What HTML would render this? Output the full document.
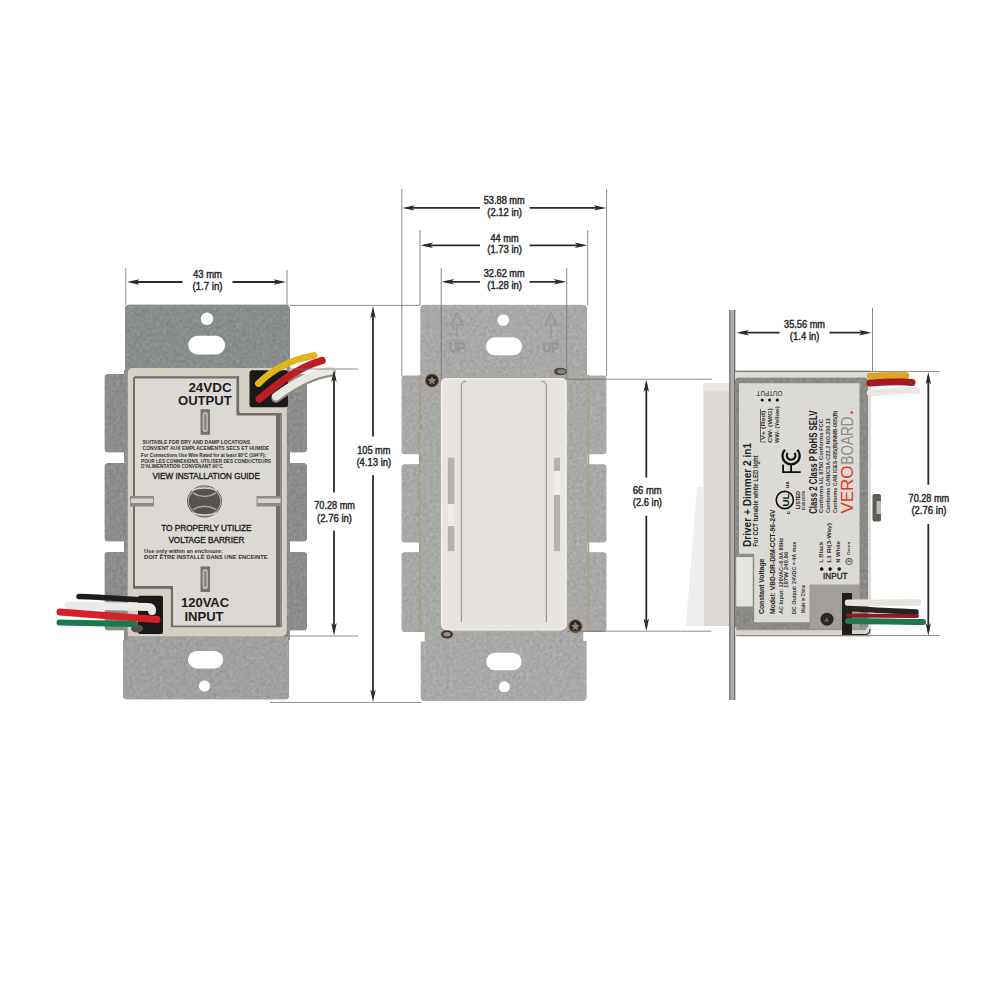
<!DOCTYPE html>
<html><head><meta charset="utf-8"><style>
html,body{margin:0;padding:0;background:#fff;width:1000px;height:1000px;overflow:hidden}
svg{display:block}
text{font-family:"Liberation Sans",sans-serif}
</style></head><body>
<svg width="1000" height="1000" viewBox="0 0 1000 1000">
<defs>
<filter id="tex" x="0" y="0" width="1" height="1" color-interpolation-filters="sRGB">
 <feTurbulence type="fractalNoise" baseFrequency="0.3" numOctaves="3" seed="7" result="n"/>
 <feColorMatrix in="n" type="matrix" values="0.33 0.33 0.33 0 0  0.33 0.33 0.33 0 0  0.33 0.33 0.33 0 0  0 0 0 0 1" result="g"/>
 <feComposite in="SourceGraphic" in2="g" operator="arithmetic" k1="0" k2="1" k3="0.24" k4="-0.12" result="c"/>
 <feComposite in="c" in2="SourceAlpha" operator="in"/>
</filter>
</defs>
<rect width="1000" height="1000" fill="#fff"/>

<g filter="url(#tex)">
<path d="M125,309 Q125,304.5 129.5,304.5 L285.5,304.5 Q290,304.5 290,309 L290,380 L125,380 Z" fill="#898e8d"/>
<rect x="124" y="370" width="166" height="270" fill="#8b8e8c"/>
<path d="M123,640 L128,640 L128,636 L288,636 L288,640 L289.2,640 L289.2,695.5 Q289.2,699.5 285.2,699.5 L127,699.5 Q123,699.5 123,695.5 Z" fill="#9fa1a0"/>
<rect x="104.5" y="374" width="24" height="78.5" rx="3.5" fill="#8b8e8c"/>
<rect x="284" y="374" width="23" height="78.5" rx="3.5" fill="#8b8e8c"/>
<rect x="104.5" y="463" width="24" height="78.5" rx="3.5" fill="#8b8e8c"/>
<rect x="284" y="463" width="23" height="78.5" rx="3.5" fill="#8b8e8c"/>
<rect x="104.5" y="552" width="24" height="78.5" rx="3.5" fill="#8b8e8c"/>
<rect x="284" y="552" width="23" height="78.5" rx="3.5" fill="#8b8e8c"/>
</g>
<circle cx="207" cy="318.8" r="6.2" fill="#fff"/>
<rect x="188.3" y="335.8" width="36.7" height="18.7" rx="9.3" fill="#fff"/>
<rect x="188" y="651" width="35.2" height="17.4" rx="8.7" fill="#fff"/>
<circle cx="204.5" cy="686" r="5.6" fill="#fff"/>
<rect x="127.8" y="368" width="159" height="268.2" rx="5" fill="#d5cfc5"/>
<rect x="133" y="376.2" width="149" height="251" rx="2.5" fill="#6f6c69"/>
<rect x="280" y="377" width="2" height="249" fill="#8d8a86"/>
<path d="M135,378.5 L236.5,378.5 L236.5,415.5 L276,415.5 L276,625.4 L173,625.4 L173,586 L135,586 Z" fill="#dcd9d5"/>
<path d="M239,368 L287,368 L287,413 L239,413 Z" fill="#d5cfc5"/>
<path d="M238,376 L238,411 Q238,414 241,414 L281,414" stroke="#6f6c69" stroke-width="2.2" fill="none"/>
<path d="M127.8,588.5 L171,588.5 L171,636 L127.8,636 Z" fill="#d5cfc5"/>
<path d="M133,587.3 L168,587.3 Q172,587.3 172,591 L172,627" stroke="#6f6c69" stroke-width="2.2" fill="none"/>
<rect x="249.5" y="370.2" width="38.5" height="37" rx="2.5" fill="#1a1818"/>
<rect x="138" y="595.8" width="25" height="38.2" rx="2" fill="#1a1818"/>
<ellipse cx="137" cy="628.5" rx="6" ry="4" fill="#55524e"/>
<path d="M276,398 C292,386 310,375 331,372" stroke="#8e8a86" stroke-width="9.5" fill="none" stroke-linecap="round"/>
<path d="M276,396.5 C292,384.5 310,373.5 331,370.5" stroke="#ebe7e1" stroke-width="8" fill="none" stroke-linecap="round"/>
<path d="M259.5,399 C276,385 296,368 322,360.5" stroke="#bf1d26" stroke-width="7.5" fill="none" stroke-linecap="round"/>
<path d="M258.5,383.5 C270,372 288,360 314,355.5" stroke="#e3b31c" stroke-width="6.8" fill="none" stroke-linecap="round"/>
<path d="M79,596.5 C100,597 125,599 142,600" stroke="#1e1c1c" stroke-width="5.5" fill="none" stroke-linecap="round"/>
<path d="M69,605.5 L148,607 Q152,607 152,611" stroke="#eceae6" stroke-width="8" fill="none" stroke-linecap="round"/>
<path d="M60,612 L157,619.5" stroke="#d91f2a" stroke-width="7" fill="none" stroke-linecap="round"/>
<path d="M59.5,622.5 L135,624" stroke="#1a7a4c" stroke-width="6" fill="none" stroke-linecap="round"/>
<text x="188.4" y="391.6" font-size="13.0" font-weight="bold" textLength="43.2" lengthAdjust="spacingAndGlyphs" fill="#1e1e1e">24VDC</text>
<text x="178.0" y="405.2" font-size="13.6" font-weight="bold" textLength="53.6" lengthAdjust="spacingAndGlyphs" fill="#1e1e1e">OUTPUT</text>
<rect x="200.5" y="409.2" width="9.5" height="25.6" fill="#77746f"/><rect x="202.6" y="412" width="5.3" height="20" rx="2.6" fill="#bdb9b4"/><rect x="204" y="414" width="2.5" height="16" rx="1.2" fill="#8e8a85"/>
<text x="142.5" y="444.0" font-size="5.0" font-weight="bold" textLength="107.5" lengthAdjust="spacingAndGlyphs" fill="#333">SUITABLE FOR DRY AND DAMP LOCATIONS</text>
<text x="142.5" y="450.1" font-size="5.0" font-weight="bold" textLength="126.7" lengthAdjust="spacingAndGlyphs" fill="#333">CONVIENT AUX EMPLACEMENTS SECS ET HUMIDE</text>
<text x="141.0" y="457.2" font-size="4.9" font-weight="bold" textLength="125.0" lengthAdjust="spacingAndGlyphs" fill="#2a2a2a">For Connections Use Wire Rated for at least 90°C (194°F);</text>
<text x="141.0" y="462.5" font-size="4.9" font-weight="bold" textLength="130.0" lengthAdjust="spacingAndGlyphs" fill="#333">POUR LES CONNEXIONS, UTILISER DES CONDUCTEURS</text>
<text x="141.0" y="467.6" font-size="4.9" font-weight="bold" textLength="81.8" lengthAdjust="spacingAndGlyphs" fill="#333">D'ALIMENTATION CONVENANT 90°C</text>
<text x="152.4" y="479.3" font-size="8.7"  textLength="107.5" lengthAdjust="spacingAndGlyphs" fill="#222" stroke="#222" stroke-width="0.35">VIEW INSTALLATION GUIDE</text>
<ellipse cx="204.5" cy="501.3" rx="18" ry="16.5" fill="#e9e7e2"/>
<ellipse cx="204.5" cy="501.3" rx="17" ry="15.5" fill="none" stroke="#6a6560" stroke-width="1.2"/>
<ellipse cx="204.5" cy="501.3" rx="15.8" ry="14.3" fill="#57534f"/>
<path d="M192,490 Q204.5,486 217,490" stroke="#d8d4cf" stroke-width="1.4" fill="none"/>
<path d="M193,493 Q204.5,500 216,493" stroke="#aaa59f" stroke-width="1.5" fill="none"/>
<path d="M193,509.5 Q204.5,503 216,509.5" stroke="#aaa59f" stroke-width="1.5" fill="none"/>
<path d="M192,513 Q204.5,517 217,513" stroke="#d8d4cf" stroke-width="1.4" fill="none"/>
<rect x="130" y="496" width="24" height="10.5" fill="#8f8b86"/><rect x="131" y="498.5" width="22" height="4.5" fill="#d5d2cd"/>
<rect x="256.5" y="496" width="25" height="10.5" fill="#8f8b86"/><rect x="257.5" y="498.5" width="23" height="4.5" fill="#d5d2cd"/>
<text x="161.2" y="531.4" font-size="8.6"  textLength="90.4" lengthAdjust="spacingAndGlyphs" fill="#222" stroke="#222" stroke-width="0.35">TO PROPERLY UTILIZE</text>
<text x="168.4" y="542.6" font-size="8.6"  textLength="76.0" lengthAdjust="spacingAndGlyphs" fill="#222" stroke="#222" stroke-width="0.35">VOLTAGE BARRIER</text>
<text x="144.0" y="553.0" font-size="5.0" font-weight="bold" textLength="78.8" lengthAdjust="spacingAndGlyphs" fill="#333">Use only within an enclosure;</text>
<text x="144.0" y="558.6" font-size="5.0" font-weight="bold" textLength="123.6" lengthAdjust="spacingAndGlyphs" fill="#333">DOIT ÊTRE INSTALLÉ DANS UNE ENCEINTE</text>
<rect x="200.5" y="566.4" width="9.5" height="25.6" fill="#77746f"/><rect x="202.6" y="569" width="5.3" height="20" rx="2.6" fill="#bdb9b4"/><rect x="204" y="571" width="2.5" height="16" rx="1.2" fill="#8e8a85"/>
<text x="180.9" y="607.3" font-size="13.0" font-weight="bold" textLength="48.3" lengthAdjust="spacingAndGlyphs" fill="#1e1e1e">120VAC</text>
<text x="184.4" y="621.0" font-size="13.6" font-weight="bold" textLength="39.2" lengthAdjust="spacingAndGlyphs" fill="#1e1e1e">INPUT</text>
<g filter="url(#tex)">
<path d="M424,304.8 L583,304.8 Q587,304.8 587,308.8 L587,631 L583.4,631 L583.4,641 L586.6,641 L586.6,697 Q586.6,701 582.6,701 L424.6,701 Q420.6,701 420.6,697 L420.6,641.6 L424.6,641.6 L424.6,632 L420.3,632 L420.3,308.8 Q420.3,304.8 424,304.8 Z" fill="#a9a9a7"/>
<rect x="401.5" y="375.5" width="24" height="78.69999999999999" rx="3" fill="#a9a9a7"/>
<rect x="582" y="375.5" width="24.5" height="78.69999999999999" rx="3" fill="#a9a9a7"/>
<rect x="401.5" y="464.2" width="24" height="78.19999999999999" rx="3" fill="#a9a9a7"/>
<rect x="582" y="464.2" width="24.5" height="78.19999999999999" rx="3" fill="#a9a9a7"/>
<rect x="401.5" y="552.3" width="24" height="79.70000000000005" rx="3" fill="#a9a9a7"/>
<rect x="582" y="552.3" width="24.5" height="79.70000000000005" rx="3" fill="#a9a9a7"/>
<line x1="419.8" y1="375" x2="419.8" y2="632" stroke="#ad9f8c" stroke-width="2"/>
</g>
<line x1="588.3" y1="375" x2="588.3" y2="631" stroke="#ad9f8c" stroke-width="2"/>
<circle cx="503.2" cy="320.2" r="5.8" fill="#fff"/>
<rect x="486" y="337.3" width="36" height="18" rx="9" fill="#fff"/>
<rect x="486.3" y="652.7" width="35.2" height="17.6" rx="8.8" fill="#fff"/>
<circle cx="504.3" cy="686.8" r="5.5" fill="#fff"/>
<path d="M457,313 L451,325 L463,325 Z" fill="none" stroke="#929290" stroke-width="1.1"/>
<line x1="457" y1="325" x2="457" y2="337" stroke="#929290" stroke-width="1.1"/>
<text x="457" y="352" font-size="12" text-anchor="middle" fill="none" stroke="#929290" stroke-width="0.8">UP</text>
<path d="M551,313 L545,325 L557,325 Z" fill="none" stroke="#929290" stroke-width="1.1"/>
<line x1="551" y1="325" x2="551" y2="337" stroke="#929290" stroke-width="1.1"/>
<text x="551" y="352" font-size="12" text-anchor="middle" fill="none" stroke="#929290" stroke-width="0.8">UP</text>
<line x1="447" y1="377.6" x2="561" y2="377.6" stroke="#8a827d" stroke-width="1"/>
<rect x="441.6" y="378.5" width="124.5" height="251.2" rx="5.5" fill="#e9e4e2" stroke="#f3f1ef" stroke-width="1.4"/>
<rect x="461.4" y="380" width="85" height="243" rx="4" fill="#e5dfdd"/>
<path d="M461.3,622 L461.3,386 Q461.5,381.5 466,381.3" stroke="#857c79" stroke-width="0.9" fill="none"/><path d="M546.4,622 L546.4,386 Q546.2,381.5 541.7,381.3" stroke="#857c79" stroke-width="0.9" fill="none"/>
<rect x="447.8" y="457.7" width="6.6" height="93.5" fill="#b9b1af"/>
<rect x="447.5" y="504" width="7.2" height="22" fill="#f0ecea"/>
<rect x="553.9" y="457.7" width="6.1" height="93.5" fill="#b9b1af"/>
<rect x="553.6" y="471" width="6.7" height="24" fill="#f0ecea"/>
<circle cx="432" cy="380.5" r="7.2" fill="#8a8276"/><circle cx="432" cy="380.5" r="6.2" fill="#2e2822"/><path d="M432,376 L433.5,379 L436.5,379.5 L434,381.5 L435,384.5 L432,383 L429,384.5 L430,381.5 L427.5,379.5 L430.5,379 Z" fill="#8f8270"/>
<circle cx="575.4" cy="626.3" r="7.2" fill="#8a8276"/><circle cx="575.4" cy="626.3" r="6.2" fill="#2e2822"/><path d="M575.4,621.8 L576.9,624.8 L579.9,625.3 L577.4,627.3 L578.4,630.3 L575.4,628.8 L572.4,630.3 L573.4,627.3 L570.9,625.3 L573.9,624.8 Z" fill="#8f8270"/>
<ellipse cx="447" cy="634.4" rx="6" ry="4.2" fill="#3b3630"/><ellipse cx="447" cy="634.2" rx="3.5" ry="2.2" fill="#9c9080"/>
<ellipse cx="560.4" cy="371.5" rx="6.5" ry="3.8" fill="#4f4a44"/><ellipse cx="561.5" cy="371.5" rx="4" ry="2.2" fill="#8f8577"/>
<rect x="703.5" y="383.5" width="27" height="242.5" fill="#dcd8d6"/>
<rect x="703.5" y="383.5" width="27" height="8" fill="#e9e6e3"/>
<path d="M697,487 L704,487 L704,626 L686,626 Z" fill="#efeeed"/>
<rect x="729.3" y="310" width="6" height="390" fill="#b0aeab"/>
<rect x="729.3" y="310" width="1.2" height="390" fill="#6e6c6a"/>
<rect x="734" y="310" width="1.2" height="390" fill="#6e6c6a"/>
<rect x="735" y="370.8" width="136" height="265.7" rx="3" fill="#dedbd7"/>
<rect x="735" y="370.8" width="136" height="1" fill="#7c7a77"/>
<rect x="735" y="377.4" width="133" height="251.6" rx="4" fill="#8c8a86" filter="url(#tex)"/>
<path d="M739,383.3 L859.5,383.3 L859.5,584.7 L809.7,584.7 L809.7,622.2 L754.2,622.2 L754.2,553.7 L739,553.7 Z" fill="#dcdad6"/>
<rect x="736.2" y="557" width="16.5" height="49.5" fill="#e6e4e0"/>
<rect x="736" y="629" width="130" height="7.5" rx="3.5" fill="#d6d3ce"/>
<rect x="736" y="629" width="130" height="1.2" fill="#9a9792"/>
<rect x="809.7" y="584.7" width="50" height="44" fill="#a29f9a"/>
<circle cx="827" cy="619.2" r="6.5" fill="#2a2826"/><text x="824.5" y="622" font-size="6" fill="#aaa">A</text>
<rect x="842" y="593" width="10" height="42" fill="#1f1d1c"/>
<path d="M843,634.5 L866,634.5 Q870,634 870,629" stroke="#2a2826" stroke-width="1.2" fill="none"/>
<path d="M870,376 C885,375 895,375 906,375.5" stroke="#dca524" stroke-width="6.5" stroke-linecap="round" fill="none"/>
<path d="M870,383 C885,382 900,381 912,382.5" stroke="#a8191e" stroke-width="7" stroke-linecap="round" fill="none"/>
<path d="M870,393 C890,391 905,390 917,390.5" stroke="#e9e5e0" stroke-width="6.5" stroke-linecap="round" fill="none"/>
<path d="M848,602.7 L918,602.5" stroke="#e6e3dc" stroke-width="6.5" stroke-linecap="round" fill="none"/>
<path d="M848,608.5 C870,610 895,611 916,612" stroke="#262423" stroke-width="5.5" stroke-linecap="round" fill="none"/>
<path d="M848,615.5 L917,616" stroke="#8c1a1e" stroke-width="4" stroke-linecap="round" fill="none"/>
<path d="M848,621 C875,621 900,622 923,622" stroke="#1d7a50" stroke-width="6" stroke-linecap="round" fill="none"/>
<rect x="872.5" y="494" width="8.5" height="27.5" rx="2" fill="#5f5d59"/>
<rect x="876.5" y="501" width="4.5" height="13" fill="#bdbbb8"/>
<text transform="translate(747.0,547.0) rotate(-90)" x="0" y="3.61" font-size="10.5" font-weight="bold" textLength="104.0" lengthAdjust="spacingAndGlyphs" fill="#1e1e1e">Driver + Dimmer 2 in1</text>
<text transform="translate(756.0,546.8) rotate(-90)" x="0" y="2.27" font-size="6.6" font-weight="bold" textLength="91.4" lengthAdjust="spacingAndGlyphs" fill="#2a2a2a">For CCT tunable white LED light</text>
<text transform="translate(761.5,614.0) rotate(-90)" x="0" y="2.48" font-size="7.2" font-weight="bold" textLength="55.4" lengthAdjust="spacingAndGlyphs" fill="#1e1e1e">Constant Voltage</text>
<text transform="translate(772.7,614.0) rotate(-90)" x="0" y="2.48" font-size="7.2" font-weight="bold" textLength="104.4" lengthAdjust="spacingAndGlyphs" fill="#1e1e1e">Model: VBD-DR-DIM-CCT-96-24V</text>
<text transform="translate(781.0,614.0) rotate(-90)" x="0" y="1.72" font-size="5.0" font-weight="bold" textLength="76.4" lengthAdjust="spacingAndGlyphs" fill="#333">AC Input: 120VAC~0.9A 60Hz</text>
<text transform="translate(786.5,588.0) rotate(-90)" x="0" y="1.72" font-size="5.0" font-weight="bold" textLength="36.4" lengthAdjust="spacingAndGlyphs" fill="#333">107W  240.96</text>
<text transform="translate(794.0,614.0) rotate(-90)" x="0" y="1.89" font-size="5.5" font-weight="bold" textLength="72.2" lengthAdjust="spacingAndGlyphs" fill="#333">DC Output: 24VDC = 4A max</text>
<text transform="translate(803.0,613.0) rotate(-90)" x="0" y="1.55" font-size="4.5" font-weight="bold" textLength="28.0" lengthAdjust="spacingAndGlyphs" fill="#333">Made in China</text>
<text transform="translate(814.0,513.8) rotate(-90)" x="0" y="3.44" font-size="10.0" font-weight="bold" textLength="103.2" lengthAdjust="spacingAndGlyphs" fill="#1e1e1e">Class 2  Class P  RoHS  SELV</text>
<text transform="translate(821.7,513.0) rotate(-90)" x="0" y="1.72" font-size="5.0" font-weight="bold" textLength="94.0" lengthAdjust="spacingAndGlyphs" fill="#333">Conforms UL 8750          Conforms FCC</text>
<text transform="translate(828.0,513.0) rotate(-90)" x="0" y="1.72" font-size="5.0" font-weight="bold" textLength="94.7" lengthAdjust="spacingAndGlyphs" fill="#333">Conforms CAN/CSA-C22.2 NO.250.13</text>
<text transform="translate(835.0,513.0) rotate(-90)" x="0" y="1.72" font-size="5.0" font-weight="bold" textLength="102.4" lengthAdjust="spacingAndGlyphs" fill="#333">Conforms CAN ICES-005(B)/NMB-005(B)</text>
<text transform="translate(853.2,513.5) rotate(-90)" x="0" y="0" font-size="16.8" textLength="48" lengthAdjust="spacingAndGlyphs" fill="#e2391d">VERO</text>
<text transform="translate(853.2,464.5) rotate(-90)" x="0" y="0" font-size="16.8" textLength="48" lengthAdjust="spacingAndGlyphs" fill="#8a8a8a">BOARD</text>
<circle cx="851.8" cy="412.5" r="1.3" fill="#e2391d"/>
<text transform="translate(782.5,391) rotate(180)" x="0" y="0" font-size="7" fill="#222" textLength="26" lengthAdjust="spacingAndGlyphs">OUTPUT</text>
<circle cx="762.2" cy="400" r="1.6" fill="#111"/>
<circle cx="769.6" cy="400" r="1.6" fill="#111"/>
<circle cx="777.3" cy="400" r="1.6" fill="#111"/>
<text transform="translate(763.6,440.0) rotate(-90)" x="0" y="1.72" font-size="5.0" font-weight="bold" textLength="29.4" lengthAdjust="spacingAndGlyphs" fill="#333">V+    (Red)</text>
<text transform="translate(770.6,443.0) rotate(-90)" x="0" y="1.72" font-size="5.0" font-weight="bold" textLength="35.0" lengthAdjust="spacingAndGlyphs" fill="#333">CW-  (W/G)</text>
<text transform="translate(777.6,443.0) rotate(-90)" x="0" y="1.72" font-size="5.0" font-weight="bold" textLength="36.6" lengthAdjust="spacingAndGlyphs" fill="#333">WW- (Yellow)</text>
<path d="M760.5,409 L760.5,442 L766,442" stroke="#333" stroke-width="0.7" fill="none"/>
<path d="M782.2,472.2 L800.7,472.2 M783.1,472.2 L783.1,464.5 M791.1,472.2 L791.1,463.8" stroke="#111" stroke-width="1.8" fill="none"/>
<path d="M784.9,449.8 A8.6,8.6 0 1 0 797.3,449.8" stroke="#111" stroke-width="2.3" fill="none"/>
<path d="M787.7,452.8 A4.3,4.3 0 1 0 794.5,452.8" stroke="#111" stroke-width="2.2" fill="none"/>
<circle cx="784.8" cy="500" r="8.6" fill="none" stroke="#111" stroke-width="1.6"/>
<text transform="translate(788.5,506.5) rotate(-90)" x="0" y="0" font-size="9.5" font-weight="bold" fill="#111" textLength="13" lengthAdjust="spacingAndGlyphs">UL</text>
<text transform="translate(798.0,509.0) rotate(-90)" x="0" y="1.89" font-size="5.5" font-weight="bold" textLength="17.8" lengthAdjust="spacingAndGlyphs" fill="#111">LISTED</text>
<text transform="translate(804.0,510.0) rotate(-90)" x="0" y="1.44" font-size="4.2" font-weight="bold" textLength="19.0" lengthAdjust="spacingAndGlyphs" fill="#333">E351978</text>
<text transform="translate(787.8,488.0) rotate(-90)" x="0" y="1.55" font-size="4.5" font-weight="bold" textLength="6.5" lengthAdjust="spacingAndGlyphs" fill="#111">us</text>
<text transform="translate(788.0,514.5) rotate(-90)" x="0" y="1.55" font-size="4.5" font-weight="bold" textLength="3.5" lengthAdjust="spacingAndGlyphs" fill="#111">c</text>
<text transform="translate(821.7,562.8) rotate(-90)" x="0" y="1.72" font-size="5.0" font-weight="bold" textLength="21.0" lengthAdjust="spacingAndGlyphs" fill="#333">L    Black</text>
<text transform="translate(829.4,562.8) rotate(-90)" x="0" y="1.72" font-size="5.0" font-weight="bold" textLength="39.8" lengthAdjust="spacingAndGlyphs" fill="#333">L1   R/(3-Way)</text>
<text transform="translate(838.5,562.8) rotate(-90)" x="0" y="1.72" font-size="5.0" font-weight="bold" textLength="21.8" lengthAdjust="spacingAndGlyphs" fill="#333">N    White</text>
<circle cx="849" cy="561.4" r="3.2" fill="none" stroke="#333" stroke-width="0.8"/><path d="M847,561.4 L851,561.4 M849,559 L849,561.4" stroke="#333" stroke-width="0.7"/>
<text transform="translate(849.0,555.0) rotate(-90)" x="0" y="1.44" font-size="4.2" font-weight="bold" textLength="13.2" lengthAdjust="spacingAndGlyphs" fill="#333">Green</text>
<circle cx="821.7" cy="569.1" r="1.8" fill="#111"/>
<circle cx="830.1" cy="569.1" r="1.8" fill="#111"/>
<circle cx="839.2" cy="569.1" r="1.8" fill="#111"/>
<text x="823.1" y="579.2" font-size="8.3"  textLength="24.5" lengthAdjust="spacingAndGlyphs" fill="#222" stroke="#222" stroke-width="0.3">INPUT</text>
<line x1="125.8" y1="268" x2="125.8" y2="305" stroke="#6e6e6e" stroke-width="0.8"/>
<line x1="287" y1="270" x2="287" y2="305" stroke="#6e6e6e" stroke-width="0.8"/>
<line x1="290" y1="305.4" x2="420" y2="305.4" stroke="#6e6e6e" stroke-width="0.8"/>
<line x1="290" y1="369" x2="358" y2="369" stroke="#6e6e6e" stroke-width="0.8"/>
<line x1="285" y1="636" x2="358" y2="636" stroke="#6e6e6e" stroke-width="0.8"/>
<line x1="270" y1="702.4" x2="421" y2="702.4" stroke="#6e6e6e" stroke-width="0.8"/>
<line x1="401.8" y1="189" x2="401.8" y2="376" stroke="#6e6e6e" stroke-width="0.8"/>
<line x1="420" y1="230" x2="420" y2="305" stroke="#6e6e6e" stroke-width="0.8"/>
<line x1="441.2" y1="268" x2="441.2" y2="379" stroke="#6e6e6e" stroke-width="0.8"/>
<line x1="566.7" y1="268" x2="566.7" y2="379" stroke="#6e6e6e" stroke-width="0.8"/>
<line x1="587.7" y1="230" x2="587.7" y2="305" stroke="#6e6e6e" stroke-width="0.8"/>
<line x1="606.6" y1="189" x2="606.6" y2="376" stroke="#6e6e6e" stroke-width="0.8"/>
<line x1="566.5" y1="379.2" x2="712" y2="379.2" stroke="#6e6e6e" stroke-width="0.8"/>
<line x1="567" y1="631.2" x2="711.4" y2="631.2" stroke="#6e6e6e" stroke-width="0.8"/>
<line x1="872.5" y1="308" x2="872.5" y2="372" stroke="#6e6e6e" stroke-width="0.8"/>
<line x1="736" y1="371.4" x2="940" y2="371.4" stroke="#6e6e6e" stroke-width="0.8"/>
<line x1="736" y1="635.6" x2="940" y2="635.6" stroke="#6e6e6e" stroke-width="0.8"/>
<line x1="131" y1="282" x2="182.5" y2="282" stroke="#2b2b2b" stroke-width="1.8"/>
<line x1="232.5" y1="282" x2="282" y2="282" stroke="#2b2b2b" stroke-width="1.8"/>
<polygon points="127.0,282.0 139.5,279.3 136.5,282.0 139.5,284.7" fill="#2b2b2b"/>
<polygon points="286.0,282.0 273.5,279.3 276.5,282.0 273.5,284.7" fill="#2b2b2b"/>
<line x1="406.3" y1="207.9" x2="480" y2="207.9" stroke="#2b2b2b" stroke-width="1.8"/>
<line x1="529.6" y1="207.9" x2="602.3" y2="207.9" stroke="#2b2b2b" stroke-width="1.8"/>
<polygon points="402.3,207.9 414.8,205.2 411.8,207.9 414.8,210.6" fill="#2b2b2b"/>
<polygon points="606.3,207.9 593.8,205.2 596.8,207.9 593.8,210.6" fill="#2b2b2b"/>
<line x1="424.5" y1="245.3" x2="480" y2="245.3" stroke="#2b2b2b" stroke-width="1.8"/>
<line x1="529.6" y1="245.3" x2="583.3" y2="245.3" stroke="#2b2b2b" stroke-width="1.8"/>
<polygon points="420.5,245.3 433.0,242.6 430.0,245.3 433.0,248.0" fill="#2b2b2b"/>
<polygon points="587.3,245.3 574.8,242.6 577.8,245.3 574.8,248.0" fill="#2b2b2b"/>
<line x1="445.6" y1="281.8" x2="480" y2="281.8" stroke="#2b2b2b" stroke-width="1.8"/>
<line x1="529.6" y1="281.8" x2="562.3" y2="281.8" stroke="#2b2b2b" stroke-width="1.8"/>
<polygon points="441.6,281.8 454.1,279.1 451.1,281.8 454.1,284.5" fill="#2b2b2b"/>
<polygon points="566.3,281.8 553.8,279.1 556.8,281.8 553.8,284.5" fill="#2b2b2b"/>
<line x1="740.5" y1="332.7" x2="779.6" y2="332.7" stroke="#2b2b2b" stroke-width="1.8"/>
<line x1="829.4" y1="332.7" x2="867.5" y2="332.7" stroke="#2b2b2b" stroke-width="1.8"/>
<polygon points="736.5,332.7 749.0,330.0 746.0,332.7 749.0,335.4" fill="#2b2b2b"/>
<polygon points="871.5,332.7 859.0,330.0 862.0,332.7 859.0,335.4" fill="#2b2b2b"/>
<line x1="373" y1="310" x2="373" y2="436.4" stroke="#2b2b2b" stroke-width="1.8"/>
<line x1="373" y1="475.2" x2="373" y2="698" stroke="#2b2b2b" stroke-width="1.8"/>
<polygon points="373.0,306.0 370.3,318.5 373.0,315.5 375.7,318.5" fill="#2b2b2b"/>
<polygon points="373.0,702.0 370.3,689.5 373.0,692.5 375.7,689.5" fill="#2b2b2b"/>
<line x1="334" y1="373.5" x2="334" y2="492.5" stroke="#2b2b2b" stroke-width="1.8"/>
<line x1="334" y1="530.7" x2="334" y2="631.5" stroke="#2b2b2b" stroke-width="1.8"/>
<polygon points="334.0,369.5 331.3,382.0 334.0,379.0 336.7,382.0" fill="#2b2b2b"/>
<polygon points="334.0,635.5 331.3,623.0 334.0,626.0 336.7,623.0" fill="#2b2b2b"/>
<line x1="646.3" y1="383.5" x2="646.3" y2="477.6" stroke="#2b2b2b" stroke-width="1.8"/>
<line x1="646.3" y1="515.7" x2="646.3" y2="627" stroke="#2b2b2b" stroke-width="1.8"/>
<polygon points="646.3,379.5 643.6,392.0 646.3,389.0 649.0,392.0" fill="#2b2b2b"/>
<polygon points="646.3,631.0 643.6,618.5 646.3,621.5 649.0,618.5" fill="#2b2b2b"/>
<line x1="928.3" y1="376" x2="928.3" y2="484.7" stroke="#2b2b2b" stroke-width="1.8"/>
<line x1="928.3" y1="524" x2="928.3" y2="631.5" stroke="#2b2b2b" stroke-width="1.8"/>
<polygon points="928.3,372.0 925.6,384.5 928.3,381.5 931.0,384.5" fill="#2b2b2b"/>
<polygon points="928.3,635.5 925.6,623.0 928.3,626.0 931.0,623.0" fill="#2b2b2b"/>
<text x="193.0" y="278.2" font-size="10.6" textLength="29.0" lengthAdjust="spacingAndGlyphs" fill="#2b2b2b" stroke="#2b2b2b" stroke-width="0.45">43 mm</text>
<text x="192.5" y="289.8" font-size="10.6" textLength="30.0" lengthAdjust="spacingAndGlyphs" fill="#2b2b2b" stroke="#2b2b2b" stroke-width="0.45">(1.7 in)</text>
<text x="357.2" y="453.6" font-size="10.6" textLength="33.2" lengthAdjust="spacingAndGlyphs" fill="#2b2b2b" stroke="#2b2b2b" stroke-width="0.45">105 mm</text>
<text x="356.4" y="466.0" font-size="10.6" textLength="34.8" lengthAdjust="spacingAndGlyphs" fill="#2b2b2b" stroke="#2b2b2b" stroke-width="0.45">(4.13 in)</text>
<text x="314.2" y="509.3" font-size="10.6" textLength="40.8" lengthAdjust="spacingAndGlyphs" fill="#2b2b2b" stroke="#2b2b2b" stroke-width="0.45">70.28 mm</text>
<text x="317.0" y="521.5" font-size="10.6" textLength="35.0" lengthAdjust="spacingAndGlyphs" fill="#2b2b2b" stroke="#2b2b2b" stroke-width="0.45">(2.76 in)</text>
<text x="483.7" y="203.9" font-size="10.2" textLength="41.0" lengthAdjust="spacingAndGlyphs" fill="#2b2b2b" stroke="#2b2b2b" stroke-width="0.45">53.88 mm</text>
<text x="487.3" y="216.0" font-size="10.2" textLength="34.6" lengthAdjust="spacingAndGlyphs" fill="#2b2b2b" stroke="#2b2b2b" stroke-width="0.45">(2.12 in)</text>
<text x="490.4" y="241.7" font-size="10.2" textLength="28.3" lengthAdjust="spacingAndGlyphs" fill="#2b2b2b" stroke="#2b2b2b" stroke-width="0.45">44 mm</text>
<text x="487.3" y="253.2" font-size="10.2" textLength="34.6" lengthAdjust="spacingAndGlyphs" fill="#2b2b2b" stroke="#2b2b2b" stroke-width="0.45">(1.73 in)</text>
<text x="483.7" y="277.4" font-size="10.2" textLength="41.0" lengthAdjust="spacingAndGlyphs" fill="#2b2b2b" stroke="#2b2b2b" stroke-width="0.45">32.62 mm</text>
<text x="487.3" y="289.0" font-size="10.2" textLength="34.6" lengthAdjust="spacingAndGlyphs" fill="#2b2b2b" stroke="#2b2b2b" stroke-width="0.45">(1.28 in)</text>
<text x="632.8" y="494.0" font-size="10.2" textLength="28.8" lengthAdjust="spacingAndGlyphs" fill="#2b2b2b" stroke="#2b2b2b" stroke-width="0.45">66 mm</text>
<text x="632.8" y="506.0" font-size="10.2" textLength="29.2" lengthAdjust="spacingAndGlyphs" fill="#2b2b2b" stroke="#2b2b2b" stroke-width="0.45">(2.6 in)</text>
<text x="784.0" y="328.4" font-size="10.2" textLength="41.0" lengthAdjust="spacingAndGlyphs" fill="#2b2b2b" stroke="#2b2b2b" stroke-width="0.45">35.56 mm</text>
<text x="789.8" y="340.3" font-size="10.2" textLength="29.7" lengthAdjust="spacingAndGlyphs" fill="#2b2b2b" stroke="#2b2b2b" stroke-width="0.45">(1.4 in)</text>
<text x="908.6" y="502.2" font-size="10.2" textLength="40.6" lengthAdjust="spacingAndGlyphs" fill="#2b2b2b" stroke="#2b2b2b" stroke-width="0.45">70.28 mm</text>
<text x="911.4" y="514.3" font-size="10.2" textLength="35.0" lengthAdjust="spacingAndGlyphs" fill="#2b2b2b" stroke="#2b2b2b" stroke-width="0.45">(2.76 in)</text>
</svg></body></html>
